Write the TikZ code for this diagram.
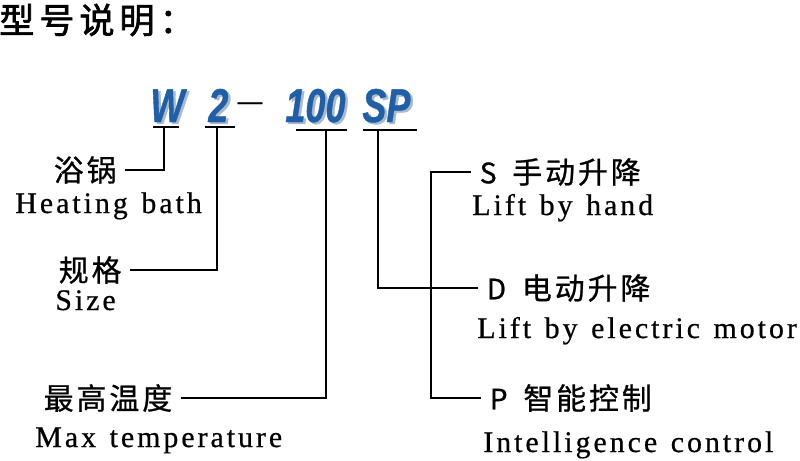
\documentclass[tikz,border=0pt]{standalone}
\usepackage{fontspec}
\setmainfont{Liberation Serif}
\newfontfamily\cjk[LetterSpace=10,FakeBold=0.8]{Noto Sans CJK SC}
\newfontfamily\titlefont[LetterSpace=14,FakeBold=1.8]{Noto Sans CJK SC}
\newfontfamily\enfont[LetterSpace=10,WordSpace=1.3,FakeBold=0.6]{Liberation Serif}
\newfontfamily\codefont[FakeBold=1]{Liberation Sans}
\usetikzlibrary{positioning}

\definecolor{codeblue}{HTML}{1F5FA6}
\definecolor{codeshade}{HTML}{A9B9CE}
\newcommand{\codemark}[1]{\rlap{\kern1.4pt\raisebox{-1.1pt}{\color{codeshade}\scalebox{0.76}[1]{#1}}}{\color{codeblue}\scalebox{0.76}[1]{#1}}}

\tikzset{
  cn/.style={font={\cjk\fontsize{17pt}{20pt}\selectfont}, inner sep=0pt, outer xsep=5pt, anchor=west},
  en/.style={font={\enfont\fontsize{17pt}{20pt}\selectfont}, inner sep=0pt, anchor=base west},
  code/.style={font={\codefont\bfseries\itshape\fontsize{27pt}{27pt}\selectfont}, inner sep=0pt, anchor=base west},
  link/.style={line width=0.8pt}
}

\begin{document}
\begin{tikzpicture}[x=0.02cm, y=-0.02cm]
        \useasboundingbox (0,0) rectangle (800,460);

        % 标题
        \node[font={\titlefont\fontsize{20pt}{22pt}\selectfont}, inner sep=0pt, anchor=west] (title) at (-1,20) {型号说明：};

        % 型号
        \node[code] (w) at (150,122) {\codemark{W}};
        \node[code] (two) at (208,122) {\codemark{2}};
        \node[font={\codefont\fontsize{14pt}{14pt}\selectfont}, inner sep=0pt] (dash) at (250,106) {—};
        \node[code] (hundred) at (285,122) {\codemark{100}};
        \node[code] (sp) at (362,122) {\codemark{SP}};

        % 下划线
        \foreach \a/\b/\y in {153/179/127, 205/235/127, 296/347/130, 363/417/130} {
            \draw[link] (\a,\y) -- (\b,\y);
        }
        \coordinate (wt) at (164,127);
        \coordinate (twot) at (217,127);
        \coordinate (hundredt) at (326,130);
        \coordinate (spt) at (378,130);

        % 左侧说明
        \node[cn] (yuguo) at (45,170) {浴锅};
        \node[en] (bath) at (15,213) {Heating bath};
        \node[cn] (guige) at (50,270) {规格};
        \node[en] (size) at (55,310) {Size};
        \node[cn] (wendu) at (35,398) {最高温度};
        \node[en] (maxt) at (35,447) {Max temperature};

        % 右侧说明
        \node[cn] (shou) at (471,172) {{\fontsize{16pt}{16pt}\selectfont S}\hspace{9pt}手动升降};
        \node[en] (hand) at (472,215) {Lift by hand};
        \node[cn] (dian) at (478,288) {{\fontsize{16pt}{16pt}\selectfont D}\hspace{9pt}电动升降};
        \node[en] (motor) at (477,338) {Lift by electric motor};
        \node[cn] (zhi) at (481,398) {{\fontsize{16pt}{16pt}\selectfont P}\hspace{9pt}智能控制};
        \node[en] (intel) at (483,452) {Intelligence control};

        % 连线
        \draw[link] (wt) |- (yuguo.east);
        \draw[link] (twot) |- (guige.east);
        \draw[link] (hundredt) |- (wendu.east);
        \draw[link] (spt) |- (dian.west);
        \draw[link] (shou.west) -- ++(-40,0) |- (zhi.west);
    \end{tikzpicture}
\end{document}
